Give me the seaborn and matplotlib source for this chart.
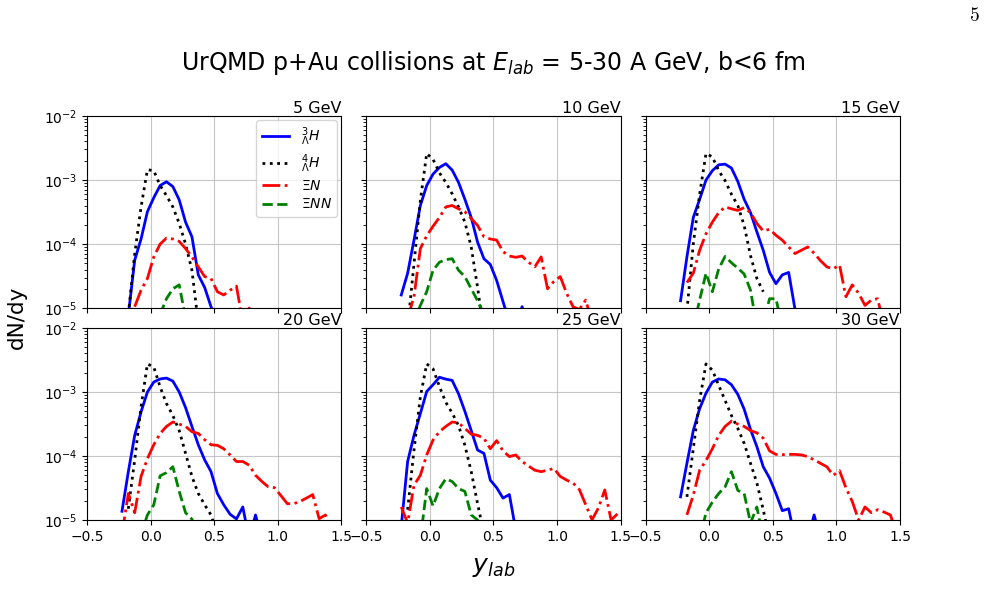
import numpy as np
import pandas as pd
import seaborn as sns
import matplotlib
matplotlib.use("Agg")
import matplotlib.pyplot as plt

nan = np.nan

# rapidity bin centres
y_bins = [-0.225, -0.175, -0.125, -0.075, -0.025, 0.025, 0.075, 0.125, 0.175,
          0.225, 0.275, 0.325, 0.375, 0.425, 0.475, 0.525, 0.575, 0.625, 0.675,
          0.725, 0.775, 0.825, 0.875, 0.925, 0.975, 1.025, 1.075, 1.125, 1.175,
          1.225, 1.275, 1.325, 1.375, 1.425, 1.475]

energies = ["5 GeV", "10 GeV", "15 GeV", "20 GeV", "25 GeV", "30 GeV"]
species = [r"${}^{3}_{\Lambda}H$", r"${}^{4}_{\Lambda}H$", r"$\Xi N$", r"$\Xi NN$"]

# dN/dy per bin (values below 1e-5 fall off the bottom of the plot)
h3_5 = [nan, 7.8e-6, 5.6e-5, 1.2e-4, 3.2e-4, 5.3e-4, 8.2e-4, 9.4e-4, 7.9e-4, 4.9e-4,
        2.2e-4, 1.3e-4, 3.3e-5, 2.1e-5, 1.05e-5, 6e-6]
h4_5 = [nan, 8e-6, 7e-5, 3.8e-4, 1.45e-3, 1.4e-3, 8.2e-4, 5.7e-4, 3.8e-4, 2.1e-4,
        1.0e-4, 3.9e-5, 5.8e-6]
xn_5 = [nan, nan, 1.05e-5, 1.9e-5, 2.9e-5, 6.3e-5, 1.0e-4, 1.24e-4, 1.2e-4, 1.1e-4,
        8.5e-5, 6.3e-5, 4.4e-5, 3.1e-5, 2.9e-5, 1.8e-5, 1.6e-5, 1.9e-5, 2.2e-5,
        6e-6, 1.0e-5, 7e-6]
xnn_5 = [nan, nan, nan, nan, nan, nan, 8e-6, 1.4e-5, 2.0e-5, 2.3e-5, 7e-6]

h3_10 = [1.6e-5, 3.5e-5, 1.15e-4, 4.0e-4, 8.2e-4, 1.24e-3, 1.57e-3, 1.8e-3, 1.43e-3,
         9.2e-4, 5.0e-4, 2.6e-4, 1.07e-4, 5.9e-5, 4.8e-5, 2.7e-5, 1.26e-5, 6e-6,
         5e-6, 1.05e-5, 5e-6]
h4_10 = [nan, 5e-6, 4.9e-5, 4.8e-4, 2.6e-3, 2.1e-3, 1.3e-3, 9.2e-4, 6.1e-4, 3.8e-4,
         2.2e-4, 9e-5, 2.1e-5, 4e-6]
xn_10 = [nan, 7e-6, 1.5e-5, 8.5e-5, 1.35e-4, 1.9e-4, 2.6e-4, 3.8e-4, 4.0e-4, 3.55e-4,
         3.2e-4, 2.5e-4, 1.95e-4, 1.3e-4, 1.2e-4, 1.15e-4, 7.6e-5, 6.5e-5, 6.2e-5,
         6.5e-5, 5.2e-5, 4.4e-5, 6.3e-5, 2.0e-5, 2.6e-5, 3.1e-5, 1.7e-5, 1.05e-5,
         9.5e-6, 1.33e-5, 6e-6]
xnn_10 = [nan, nan, 6e-6, 1.1e-5, 1.8e-5, 3.9e-5, 5.2e-5, 5.7e-5, 5.9e-5, 3.9e-5,
          3.1e-5, 2.0e-5, 1.3e-5, 8e-6]

h3_15 = [1.3e-5, 6.3e-5, 2.6e-4, 5.0e-4, 1.0e-3, 1.4e-3, 1.73e-3, 1.77e-3, 1.54e-3,
         9.5e-4, 5.0e-4, 3.1e-4, 1.55e-4, 8e-5, 3.6e-5, 2.4e-5, 3.3e-5, 3.6e-5,
         9.5e-6, 5e-6]
h4_15 = [nan, 9e-6, 1.0e-4, 6.0e-4, 2.6e-3, 2.3e-3, 1.4e-3, 9.8e-4, 6.0e-4, 4.0e-4,
         1.95e-4, 6.6e-5, 2.9e-5, 1.8e-5]
xn_15 = [nan, 2.5e-5, 3.5e-5, 8e-5, 1.45e-4, 2.2e-4, 3.1e-4, 3.8e-4, 3.55e-4, 3.35e-4,
         3.7e-4, 3.1e-4, 2.1e-4, 1.6e-4, 1.7e-4, 1.37e-4, 1.15e-4, 9e-5, 7.1e-5,
         8e-5, 9e-5, 7.2e-5, 5.5e-5, 4.4e-5, 4.1e-5, 4.7e-5, 1.5e-5, 2.3e-5, 1.7e-5,
         1.1e-5, 1.33e-5, 1.4e-5, 5e-6]
xnn_15 = [nan, nan, 5e-6, 1.33e-5, 3.5e-5, 1.8e-5, 4.1e-5, 6.4e-5, 5.1e-5, 4.2e-5,
          3.4e-5, 1.9e-5, 5e-6, 6e-6, 1.4e-5, 1.4e-5, 5e-6]

h3_20 = [1.37e-5, 5.7e-5, 2.1e-4, 4.9e-4, 1.0e-3, 1.43e-3, 1.6e-3, 1.65e-3, 1.48e-3,
         1.0e-3, 5.7e-4, 2.9e-4, 1.5e-4, 8.7e-5, 5.7e-5, 2.6e-5, 1.73e-5, 1.23e-5,
         1.04e-5, 1.6e-5, 5e-6, 1.2e-5, 5e-6]
h4_20 = [nan, 1.5e-5, 8.7e-5, 5.9e-4, 2.75e-3, 2.45e-3, 1.2e-3, 6.6e-4, 4.3e-4, 2.5e-4,
         1.1e-4, 4.8e-5, 2.6e-5, 1.73e-5, 1.2e-5, 6e-6]
xn_20 = [6e-6, 2.6e-5, 1.3e-5, 4.8e-5, 9.1e-5, 1.5e-4, 2.25e-4, 2.9e-4, 3.4e-4, 3.15e-4,
         2.9e-4, 2.4e-4, 2.25e-4, 1.8e-4, 1.5e-4, 1.47e-4, 1.3e-4, 1.04e-4, 8.2e-5,
         8.2e-5, 7.2e-5, 5.0e-5, 4.0e-5, 3.3e-5, 3.2e-5, 2.4e-5, 1.8e-5, 1.8e-5,
         1.95e-5, 2.2e-5, 2.5e-5, 1.05e-5, 1.2e-5, 6e-6]
xnn_20 = [nan, nan, nan, 6e-6, 1.2e-5, 1.73e-5, 4.9e-5, 5.5e-5, 6.8e-5, 2.8e-5,
          1.3e-5, 1.03e-5, 6e-6]

h3_25 = [8e-6, 8.2e-5, 2.1e-4, 4.6e-4, 1.02e-3, 1.3e-3, 1.7e-3, 1.59e-3, 1.52e-3,
         9.4e-4, 5.0e-4, 2.5e-4, 1.24e-4, 1.1e-4, 4.2e-5, 3.2e-5, 2.2e-5, 2.5e-5, 7e-6]
h4_25 = [nan, 1.45e-5, 1.24e-4, 8.4e-4, 2.75e-3, 2.3e-3, 1.22e-3, 6.9e-4, 4.7e-4,
         3.0e-4, 1.48e-4, 5.7e-5, 1.8e-5, 6e-6]
xn_25 = [1.6e-5, 9e-6, 3.5e-5, 5.0e-5, 1.04e-4, 1.78e-4, 2.4e-4, 2.9e-4, 3.4e-4, 3.3e-4,
         2.7e-4, 2.2e-4, 2.1e-4, 1.9e-4, 1.3e-4, 1.74e-4, 1.2e-4, 9.8e-5, 1.04e-4,
         8.2e-5, 7.0e-5, 6.0e-5, 5.7e-5, 6.0e-5, 6.4e-5, 4.8e-5, 4.2e-5, 3.8e-5,
         3.0e-5, 1.74e-5, 1.01e-5, 1.54e-5, 2.95e-5, 1.0e-5, 1.25e-5]
xnn_25 = [nan, nan, nan, 5e-6, 3.1e-5, 1.66e-5, 3.1e-5, 4.4e-5, 4.0e-5, 3.1e-5,
          2.8e-5, 1.2e-5, 1.0e-5, 6e-6]

h3_30 = [2.3e-5, 7.7e-5, 2.5e-4, 5.5e-4, 9.6e-4, 1.43e-3, 1.6e-3, 1.55e-3, 1.3e-3,
         9.2e-4, 5.4e-4, 2.6e-4, 1.4e-4, 6.8e-5, 4.5e-5, 2.6e-5, 1.4e-5, 1.5e-5,
         5e-6, 5e-6, 5e-6, 1.2e-5, 5e-6]
h4_30 = [nan, 2.3e-5, 1.3e-4, 7.4e-4, 2.75e-3, 2.2e-3, 1.27e-3, 7.4e-4, 4.3e-4, 2.7e-4,
         1.58e-4, 7.7e-5, 3.8e-5, 1.45e-5, 5e-6]
xn_30 = [nan, 1.2e-5, 2.45e-5, 6.0e-5, 8.5e-5, 1.3e-4, 2.1e-4, 2.9e-4, 3.5e-4, 3.15e-4,
         2.9e-4, 2.5e-4, 2.3e-4, 1.9e-4, 1.2e-4, 1.06e-4, 1.05e-4, 1.06e-4, 1.06e-4,
         1.04e-4, 9.8e-5, 8.7e-5, 7.7e-5, 6.8e-5, 5.0e-5, 5.9e-5, 3.2e-5, 1.95e-5,
         1.0e-5, 1.6e-5, 1.3e-5, 1.45e-5, 1.33e-5, 1.2e-5, 6e-6]
xnn_30 = [nan, nan, nan, 5e-6, 1.3e-5, 1.9e-5, 2.6e-5, 3.3e-5, 5.7e-5, 2.9e-5,
          2.6e-5, 9e-6, 1.6e-5, 5e-6]

series = {
    "5 GeV": [h3_5, h4_5, xn_5, xnn_5],
    "10 GeV": [h3_10, h4_10, xn_10, xnn_10],
    "15 GeV": [h3_15, h4_15, xn_15, xnn_15],
    "20 GeV": [h3_20, h4_20, xn_20, xnn_20],
    "25 GeV": [h3_25, h4_25, xn_25, xnn_25],
    "30 GeV": [h3_30, h4_30, xn_30, xnn_30],
}

rows = []
for e in energies:
    for name, vals in zip(species, series[e]):
        for yb, v in zip(y_bins, vals):
            rows.append({"energy": e, "species": name, "y": yb, "dNdy": v})
df = pd.DataFrame(rows)

palette = dict(zip(species, ["b", "k", "r", "g"]))
dashes = dict(zip(species, ["", (1, 1.65), (6.4, 1.6, 1, 1.6), (3.7, 1.6)]))

fig, axes = plt.subplots(2, 3, figsize=(10.07, 6.11), dpi=100, sharex=True, sharey=True)
fig.subplots_adjust(left=0.0864, right=0.8937, top=0.8101, bottom=0.1489,
                    wspace=0.098, hspace=0.104)

for i, (ax, e) in enumerate(zip(axes.flat, energies)):
    ax.set_yscale("log")
    sns.lineplot(data=df[df["energy"] == e], x="y", y="dNdy", hue="species",
                 style="species", palette=palette, dashes=dashes, estimator=None,
                 sort=False, linewidth=2, ax=ax, legend=(i == 0))
    ax.set_xlim(-0.5, 1.5)
    ax.set_ylim(1e-5, 1e-2)
    ax.set_xticks([-0.5, 0.0, 0.5, 1.0, 1.5])
    ax.grid(True, color="#b0b0b0", alpha=0.7, linewidth=0.8)
    ax.set_xlabel("")
    ax.set_ylabel("")
    ax.set_title(e, loc="right", fontsize=11.5, pad=2)
    if i == 0:
        sns.move_legend(ax, "upper right", title=None, fontsize=10,
                        labelspacing=0.3, borderaxespad=0.3)

fig.suptitle(r"UrQMD p+Au collisions at $E_{lab}$ = 5-30 A GeV, b<6 fm",
             x=0.49, y=0.897, va="center", fontsize=17)
fig.text(0.49, 0.072, r"$y_{lab}$", ha="center", va="center", fontsize=18)
fig.text(0.017, 0.48, "dN/dy", rotation=90, ha="center", va="center", fontsize=15.5)
fig.text(0.968, 0.975, r"$5$", ha="center", va="center", fontsize=14,
         math_fontfamily="cm")

fig.savefig("out.png", dpi=100)
